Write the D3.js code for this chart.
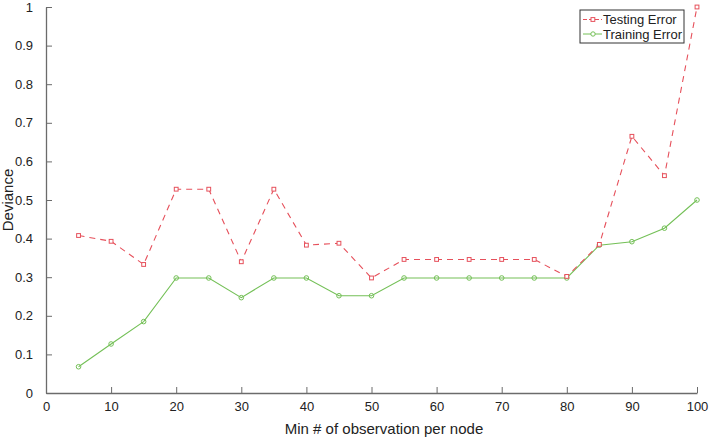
<!DOCTYPE html>
<html lang="en">
<head>
<meta charset="utf-8">
<title>Deviance vs min observations per node</title>
<script src="https://cdn.jsdelivr.net/npm/d3@7"></script>
<style>
  html, body { margin: 0; padding: 0; background: #fff; }
  svg { display: block; font-family: "Liberation Sans", Arial, sans-serif; }
  .axis path, .axis line { stroke: #6b6b6b; }
  .axis text { fill: #222; font-size: 13px; }
</style>
</head>
<body>
<div id="chart"></div>
<script>
// min # of observation per node
var minObs = [5, 10, 15, 20, 25, 30, 35, 40, 45, 50, 55, 60, 65, 70, 75, 80, 85, 90, 95, 100];
var testingError = [0.408, 0.393, 0.333, 0.528, 0.528, 0.340, 0.528, 0.383, 0.388, 0.298,
                    0.346, 0.346, 0.346, 0.346, 0.346, 0.302, 0.385, 0.665, 0.563, 1.0];
var trainingError = [0.068, 0.127, 0.185, 0.298, 0.298, 0.247, 0.298, 0.298, 0.252, 0.252,
                     0.298, 0.298, 0.298, 0.298, 0.298, 0.298, 0.383, 0.392, 0.427, 0.5];
var xTicks = [0, 10, 20, 30, 40, 50, 60, 70, 80, 90, 100];
var yTicks = [0, 0.1, 0.2, 0.3, 0.4, 0.5, 0.6, 0.7, 0.8, 0.9, 1];

var w = 709, h = 438;
var margin = {left: 46, right: 12, top: 7, bottom: 45};

var x = d3.scaleLinear().domain([0, 100]).range([margin.left, w - margin.right]);
var y = d3.scaleLinear().domain([0, 1]).range([h - margin.bottom, margin.top]);

var svg = d3.select("#chart").append("svg")
  .attr("width", w).attr("height", h);

// axes, ticks pointing inward
svg.append("g").attr("class", "axis")
  .attr("transform", "translate(0," + y(0) + ")")
  .call(d3.axisBottom(x).tickValues(xTicks).tickSize(-6).tickPadding(9).tickSizeOuter(0))
  .call(function(g) { g.select(".domain").attr("stroke-width", 1.3); });

svg.append("g").attr("class", "axis")
  .attr("transform", "translate(" + x(0) + ",0)")
  .call(d3.axisLeft(y).tickValues(yTicks).tickSize(-6).tickPadding(13).tickSizeOuter(0)
    .tickFormat(function(d) { return d === 0 || d === 1 ? d : d3.format(".1f")(d); }))
  .call(function(g) { g.select(".domain").attr("stroke-width", 1.3); });

// axis titles
svg.append("text")
  .attr("x", 384).attr("y", 434)
  .attr("text-anchor", "middle").attr("font-size", "15px").attr("fill", "#222")
  .text("Min # of observation per node");

svg.append("text")
  .attr("transform", "translate(13," + y(0.5) + ") rotate(-90)")
  .attr("text-anchor", "middle").attr("font-size", "15px").attr("fill", "#222")
  .text("Deviance");

var red = "#e6505b", green = "#74c057";

var line = d3.line()
  .x(function(d) { return x(d[0]); })
  .y(function(d) { return y(d[1]); });

var testData = d3.zip(minObs, testingError);
var trainData = d3.zip(minObs, trainingError);

svg.append("path").datum(trainData)
  .attr("d", line).attr("fill", "none").attr("stroke", green).attr("stroke-width", 1.1);

svg.selectAll(".trainPt").data(trainData).enter().append("circle")
  .attr("class", "trainPt")
  .attr("cx", function(d) { return x(d[0]); })
  .attr("cy", function(d) { return y(d[1]); })
  .attr("r", 2.3).attr("fill", "none").attr("stroke", green).attr("stroke-width", 1);

svg.append("path").datum(testData)
  .attr("d", line).attr("fill", "none").attr("stroke", red).attr("stroke-width", 1.1)
  .attr("stroke-dasharray", "6,5");

svg.selectAll(".testPt").data(testData).enter().append("rect")
  .attr("class", "testPt")
  .attr("x", function(d) { return x(d[0]) - 1.9; })
  .attr("y", function(d) { return y(d[1]) - 1.9; })
  .attr("width", 3.8).attr("height", 3.8)
  .attr("fill", "#fff").attr("stroke", red).attr("stroke-width", 1);

// legend
var lg = svg.append("g").attr("transform", "translate(580,10)");
lg.append("rect").attr("width", 104).attr("height", 33)
  .attr("fill", "#fff").attr("stroke", "#333").attr("stroke-width", 1);

var items = [
  {name: "Testing Error", color: red, sym: "square", dash: "4,2"},
  {name: "Training Error", color: green, sym: "circle", dash: null}
];
items.forEach(function(it, i) {
  var g = lg.append("g").attr("transform", "translate(0," + (9.5 + i * 14.5) + ")");
  g.append("line").attr("x1", 3).attr("x2", 22).attr("y1", 0).attr("y2", 0)
    .attr("stroke", it.color).attr("stroke-width", 1)
    .attr("stroke-dasharray", it.dash);
  if (it.sym === "square") {
    g.append("rect").attr("x", 11).attr("y", -1.9).attr("width", 3.8).attr("height", 3.8)
      .attr("fill", "#fff").attr("stroke", it.color);
  } else {
    g.append("circle").attr("cx", 13).attr("cy", 0).attr("r", 2.2)
      .attr("fill", "#fff").attr("stroke", it.color);
  }
  g.append("text").attr("x", 23).attr("y", 4.5)
    .attr("font-size", "13px").attr("fill", "#222").text(it.name);
});
</script>
</body>
</html>
